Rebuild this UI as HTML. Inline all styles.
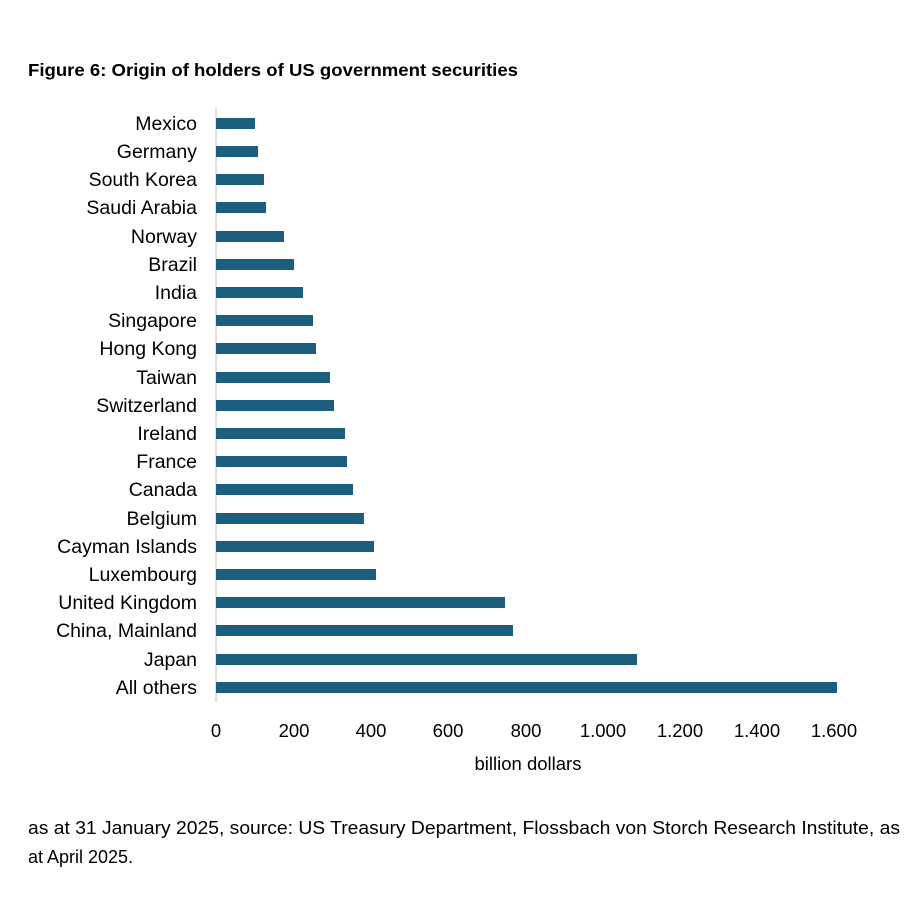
<!DOCTYPE html>
<html><head><meta charset="utf-8"><style>
body{margin:0;background:#fff;}
svg{display:block;}
</style></head><body>
<svg width="920" height="902" xmlns="http://www.w3.org/2000/svg" font-family="Liberation Sans, sans-serif">
<rect width="920" height="902" fill="#fff"/>
<text x="28" y="76" font-size="17.5" font-weight="bold" fill="#000" textLength="490" lengthAdjust="spacingAndGlyphs">Figure 6: Origin of holders of US government securities</text>
<line x1="216" y1="108" x2="216" y2="702" stroke="#bfbfbf" stroke-width="1"/>
<g fill="#1b5e7e">
<rect x="216" y="118" width="39" height="11"/>
<rect x="216" y="146" width="42" height="11"/>
<rect x="216" y="174" width="48" height="11"/>
<rect x="216" y="202" width="50" height="11"/>
<rect x="216" y="231" width="68" height="11"/>
<rect x="216" y="259" width="78" height="11"/>
<rect x="216" y="287" width="87" height="11"/>
<rect x="216" y="315" width="97" height="11"/>
<rect x="216" y="343" width="100" height="11"/>
<rect x="216" y="372" width="114" height="11"/>
<rect x="216" y="400" width="118" height="11"/>
<rect x="216" y="428" width="129" height="11"/>
<rect x="216" y="456" width="131" height="11"/>
<rect x="216" y="484" width="137" height="11"/>
<rect x="216" y="513" width="148" height="11"/>
<rect x="216" y="541" width="158" height="11"/>
<rect x="216" y="569" width="160" height="11"/>
<rect x="216" y="597" width="289" height="11"/>
<rect x="216" y="625" width="297" height="11"/>
<rect x="216" y="654" width="421" height="11"/>
<rect x="216" y="682" width="621" height="11"/>
</g>
<g font-size="19.5" fill="#000" text-anchor="end">
<text x="197" y="130">Mexico</text>
<text x="197" y="158">Germany</text>
<text x="197" y="186">South Korea</text>
<text x="197" y="214">Saudi Arabia</text>
<text x="197" y="243">Norway</text>
<text x="197" y="271">Brazil</text>
<text x="197" y="299">India</text>
<text x="197" y="327">Singapore</text>
<text x="197" y="355">Hong Kong</text>
<text x="197" y="384">Taiwan</text>
<text x="197" y="412">Switzerland</text>
<text x="197" y="440">Ireland</text>
<text x="197" y="468">France</text>
<text x="197" y="496">Canada</text>
<text x="197" y="525">Belgium</text>
<text x="197" y="553">Cayman Islands</text>
<text x="197" y="581">Luxembourg</text>
<text x="197" y="609">United Kingdom</text>
<text x="197" y="637">China, Mainland</text>
<text x="197" y="666">Japan</text>
<text x="197" y="694">All others</text>
</g>
<g font-size="18.5" fill="#000" text-anchor="middle">
<text x="216" y="737">0</text>
<text x="294" y="737">200</text>
<text x="371" y="737">400</text>
<text x="448" y="737">600</text>
<text x="526" y="737">800</text>
<text x="603" y="737">1.000</text>
<text x="680" y="737">1.200</text>
<text x="757" y="737">1.400</text>
<text x="834" y="737">1.600</text>
<text x="528" y="770">billion dollars</text>
</g>
<g font-size="18" fill="#000">
<text x="28" y="834" textLength="872" lengthAdjust="spacingAndGlyphs">as at 31 January 2025, source: US Treasury Department, Flossbach von Storch Research Institute, as</text>
<text x="28" y="863">at April 2025.</text>
</g>
</svg>
</body></html>
